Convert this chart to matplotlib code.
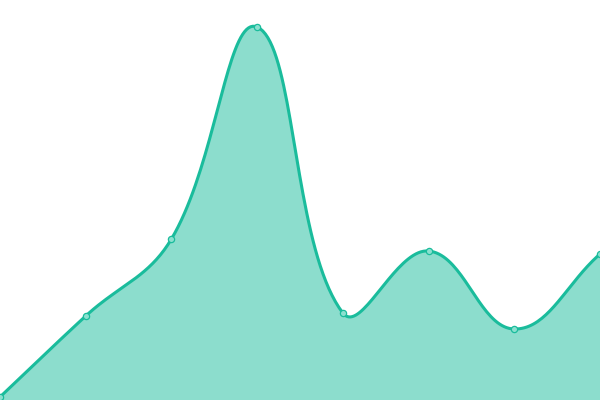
import numpy as np
import matplotlib
matplotlib.use("Agg")
from matplotlib import pyplot as plt

# values (0 = bottom edge, 400 = top edge)
labels = ["A", "B", "C", "D", "E", "F", "G", "H"]
values = [3, 84, 161, 373, 87, 149, 71, 146]

W, H = 600, 400
line_color = "#1abc9c"


# chart.js style spline (tension 0.4), computed in pixel space
def spline_path(px, py, t=0.4, steps=40):
    n = len(px)
    ctrl = []
    for i in range(n):
        p0 = (px[max(i - 1, 0)], py[max(i - 1, 0)])
        p1 = (px[i], py[i])
        p2 = (px[min(i + 1, n - 1)], py[min(i + 1, n - 1)])
        d01 = np.hypot(p1[0] - p0[0], p1[1] - p0[1])
        d12 = np.hypot(p2[0] - p1[0], p2[1] - p1[1])
        tot = d01 + d12
        s01 = d01 / tot if tot else 0
        s12 = d12 / tot if tot else 0
        fa, fb = t * s01, t * s12
        prev_c = (p1[0] - fa * (p2[0] - p0[0]), p1[1] - fa * (p2[1] - p0[1]))
        next_c = (p1[0] + fb * (p2[0] - p0[0]), p1[1] + fb * (p2[1] - p0[1]))
        # keep control points inside the chart area
        prev_c = (min(max(prev_c[0], 0), W), min(max(prev_c[1], 0), H))
        next_c = (min(max(next_c[0], 0), W), min(max(next_c[1], 0), H))
        ctrl.append((prev_c, next_c))
    xs, ys = [], []
    u = np.linspace(0, 1, steps)
    for i in range(n - 1):
        a = np.array([px[i], py[i]])
        b = np.array(ctrl[i][1])
        c = np.array(ctrl[i + 1][0])
        d = np.array([px[i + 1], py[i + 1]])
        seg = ((1 - u) ** 3)[:, None] * a + (3 * (1 - u) ** 2 * u)[:, None] * b \
            + (3 * (1 - u) * u ** 2)[:, None] * c + (u ** 3)[:, None] * d
        xs.extend(seg[:, 0])
        ys.extend(seg[:, 1])
    return np.array(xs), np.array(ys)


x = np.arange(len(values))
step = W / (len(values) - 1)
sx, sy = spline_path(x * step, np.array(values, dtype=float))
sx = sx / step

fig = plt.figure(figsize=(6, 4), dpi=100)
ax = fig.add_axes([0, 0, 1, 1])
ax.fill_between(sx, sy, 0, color=line_color, alpha=0.5, linewidth=0)
ax.plot(sx, sy, color=line_color, linewidth=2.2, solid_capstyle="round")
ax.plot(x, values, "o", markersize=4.5, markerfacecolor="#8be0cf",
        markeredgecolor=line_color, markeredgewidth=0.9)
ax.set_xlim(0, len(values) - 1)
ax.set_ylim(0, H)
ax.axis("off")
fig.savefig("out.png", dpi=100)
